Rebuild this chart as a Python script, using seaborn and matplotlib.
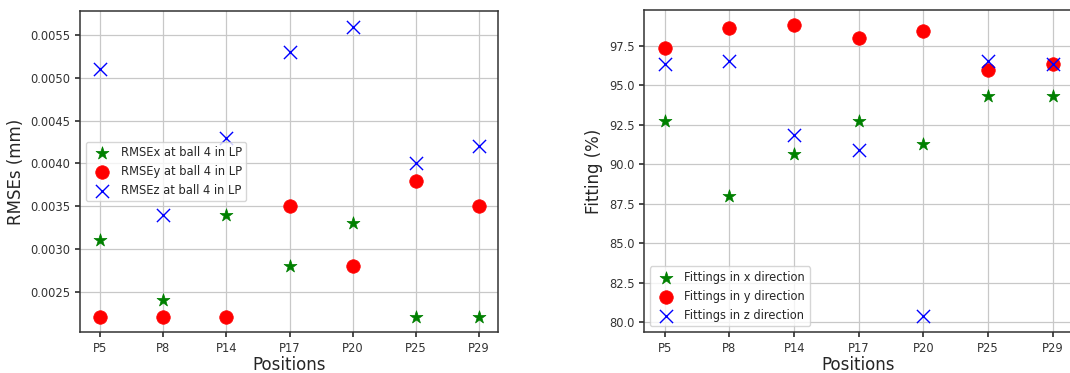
import matplotlib
matplotlib.use("Agg")
import matplotlib.pyplot as plt
import seaborn as sns
import pandas as pd

# data
positions = ['P5', 'P8', 'P14', 'P17', 'P20', 'P25', 'P29']

rmse_x = [0.0031, 0.0024, 0.0034, 0.0028, 0.0033, 0.0022, 0.0022]
rmse_y = [0.0022, 0.0022, 0.0022, 0.0035, 0.0028, 0.0038, 0.0035]
rmse_z = [0.0051, 0.0034, 0.0043, 0.0053, 0.0056, 0.0040, 0.0042]

fit_x = [92.7, 88.0, 90.65, 92.7, 91.25, 94.3, 94.3]
fit_y = [97.35, 98.6, 98.8, 98.0, 98.4, 95.95, 96.35]
fit_z = [96.3, 96.55, 91.85, 90.9, 80.35, 96.5, 96.35]

sns.set_theme(style="ticks", rc={
    "axes.grid": True,
    "grid.color": "#c8c8c8",
    "grid.linewidth": 0.9,
    "axes.edgecolor": "#333333",
    "axes.linewidth": 1.1,
})
plt.rcParams['font.family'] = ['DejaVu Sans']

df = pd.DataFrame({'pos': positions,
                   'rx': rmse_x, 'ry': rmse_y, 'rz': rmse_z,
                   'fx': fit_x, 'fy': fit_y, 'fz': fit_z})

fig = plt.figure(figsize=(10.7, 3.73), dpi=100)
ax1 = fig.add_axes([0.075, 0.110, 0.390, 0.860])
ax2 = fig.add_axes([0.602, 0.110, 0.400, 0.862])

def draw(ax, cols, labels):
    sns.scatterplot(data=df, x='pos', y=cols[0], marker='*', color='green',
                    s=95, edgecolor='green', linewidth=0.5, label=labels[0], ax=ax)
    sns.scatterplot(data=df, x='pos', y=cols[1], marker='o', color='red',
                    s=95, edgecolor='red', linewidth=0.5, label=labels[1], ax=ax)
    sns.scatterplot(data=df, x='pos', y=cols[2], marker='x', color='blue',
                    s=90, linewidth=1.0, label=labels[2], ax=ax)
    ax.set_xlim(-0.32, 6.3)
    ax.set_xlabel('Positions', fontsize=12, labelpad=1)
    ax.tick_params(labelsize=8.3, length=3.5, color='#333333', labelcolor='#333333')

draw(ax1, ['rx', 'ry', 'rz'],
     ['RMSEx at ball 4 in LP', 'RMSEy at ball 4 in LP', 'RMSEz at ball 4 in LP'])
ax1.set_ylabel('RMSEs (mm)', fontsize=12)
ax1.set_yticks([0.0025, 0.0030, 0.0035, 0.0040, 0.0045, 0.0050, 0.0055])
ax1.yaxis.set_major_formatter(matplotlib.ticker.FormatStrFormatter('%.4f'))
ax1.set_ylim(0.00203, 0.00578)
ax1.legend(loc='center left', fontsize=8.3, borderpad=0.4, handletextpad=0.6)

draw(ax2, ['fx', 'fy', 'fz'],
     ['Fittings in x direction', 'Fittings in y direction', 'Fittings in z direction'])
ax2.set_ylabel('Fitting (%)', fontsize=12)
ax2.set_yticks([80.0, 82.5, 85.0, 87.5, 90.0, 92.5, 95.0, 97.5])
ax2.yaxis.set_major_formatter(matplotlib.ticker.FormatStrFormatter('%.1f'))
ax2.set_ylim(79.37, 99.72)
ax2.legend(loc='lower left', fontsize=8.3, borderpad=0.4, handletextpad=0.6)

fig.savefig('out.png', dpi=100)
